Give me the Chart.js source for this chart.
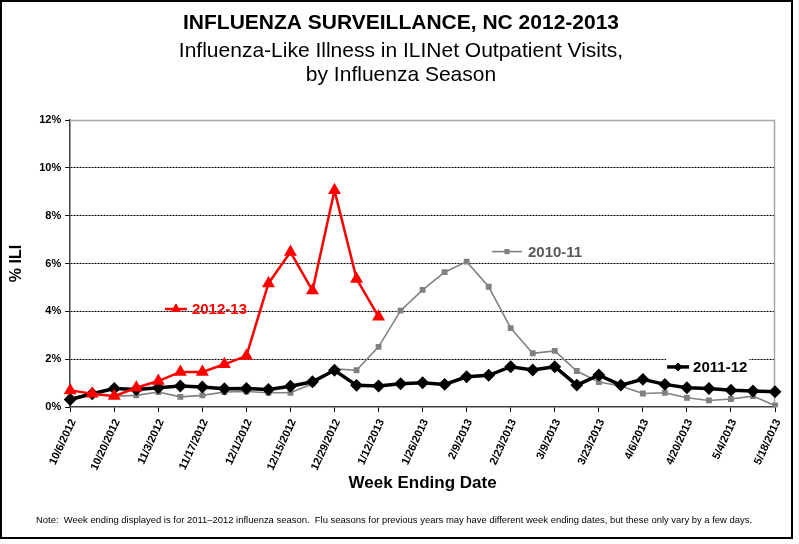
<!DOCTYPE html>
<html>
<head>
<meta charset="utf-8">
<script src="https://cdn.jsdelivr.net/npm/chart.js@4.4.1/dist/chart.umd.min.js"></script>
<style>
  body { margin: 0; background: #fff; }
  #wrap { width: 799px; height: 544px; }
</style>
</head>
<body>
<div id="wrap"><canvas id="chart" width="799" height="544"></canvas></div>
<script>
const weeks = [
  '10/6/2012', '10/13/2012', '10/20/2012', '10/27/2012', '11/3/2012', '11/10/2012',
  '11/17/2012', '11/24/2012', '12/1/2012', '12/8/2012', '12/15/2012', '12/22/2012',
  '12/29/2012', '1/5/2013', '1/12/2013', '1/19/2013', '1/26/2013', '2/2/2013',
  '2/9/2013', '2/16/2013', '2/23/2013', '3/2/2013', '3/9/2013', '3/16/2013',
  '3/23/2013', '3/30/2013', '4/6/2013', '4/13/2013', '4/20/2013', '4/27/2013',
  '5/4/2013', '5/11/2013', '5/18/2013'
];

const season1213 = [0.70, 0.56, 0.46, 0.81, 1.09, 1.47, 1.47, 1.79, 2.14, 5.17, 6.48, 4.87, 9.06, 5.36, 3.78];

const season1112 = [0.32, 0.56, 0.78, 0.74, 0.81, 0.88, 0.84, 0.77, 0.78, 0.74, 0.87, 1.06, 1.54, 0.91, 0.88,
  0.98, 1.02, 0.95, 1.27, 1.33, 1.69, 1.55, 1.69, 0.92, 1.34, 0.92, 1.16, 0.95, 0.81, 0.78, 0.71, 0.67, 0.64];

const season1011 = [0.38, 0.55, 0.46, 0.49, 0.63, 0.43, 0.49, 0.63, 0.65, 0.60, 0.60, 0.98, 1.60, 1.54, 2.52,
  4.03, 4.90, 5.64, 6.08, 5.03, 3.30, 2.25, 2.35, 1.51, 1.05, 0.88, 0.57, 0.60, 0.39, 0.28, 0.34, 0.46, 0.07];

const yTicks = [0, 2, 4, 6, 8, 10, 12];

const note = 'Note:  Week ending displayed is for 2011\u20132012 influenza season.  Flu seasons for previous years may have different week ending dates, but these only vary by a few days.';

// where the in-plot series tags sit, in data units (week index, %ILI)
const tags = [
  { ds: 0, text: '2012-13', at: 4.8, value: 4.1, color: '#ff0000', half: 11, gap: 16 },
  { ds: 2, text: '2010-11', at: 19.83, value: 6.5, color: '#595959', half: 15, gap: 21 },
  { ds: 1, text: '2011-12', at: 27.6, value: 1.68, color: '#000000', half: 11, gap: 15 },
];

const FONT = "'Liberation Sans', Arial, sans-serif";

const extras = {
  id: 'extras',
  afterLayout(chart) {
    // centre the title lines on the whole picture, not just the padded box
    chart.boxes.forEach(b => {
      if (b.options && typeof b.options.text !== 'undefined' && b.isHorizontal && b.isHorizontal()) {
        b.left = 0;
        b.right = 802;
      }
    });
  },
  beforeDatasetsDraw(chart) {
    const { ctx, chartArea: a } = chart;
    ctx.save();
    // grey plot border top and right
    ctx.strokeStyle = '#a6a6a6';
    ctx.lineWidth = 1.5;
    ctx.beginPath();
    ctx.moveTo(a.left, a.top + 0.5);
    ctx.lineTo(a.right - 0.5, a.top + 0.5);
    ctx.lineTo(a.right - 0.5, a.bottom);
    ctx.stroke();
    ctx.restore();
  },
  afterDatasetsDraw(chart) {
    const { ctx } = chart;
    const x = chart.scales.x, y = chart.scales.y;
    ctx.save();
    ctx.font = 'bold 15px ' + FONT;
    ctx.textBaseline = 'middle';
    tags.forEach(t => {
      const ds = chart.data.datasets[t.ds];
      const cx = x.getPixelForValue(t.at);
      const cy = y.getPixelForValue(t.value);
      const w = ctx.measureText(t.text).width;
      ctx.fillStyle = '#fff';
      if (t.ds === 1) ctx.fillRect(cx - t.half - 1, cy - 9, w + t.gap + t.half + 3, 18);
      ctx.strokeStyle = ds.borderColor;
      ctx.lineWidth = ds.borderWidth;
      ctx.beginPath();
      ctx.moveTo(cx - t.half, cy);
      ctx.lineTo(cx + t.half, cy);
      ctx.stroke();
      ctx.fillStyle = ds.pointBackgroundColor;
      ctx.strokeStyle = ds.borderColor;
      ctx.lineWidth = 1;
      Chart.helpers.drawPoint(ctx, {
        pointStyle: ds.pointStyle, radius: ds.pointRadius, borderWidth: 1, rotation: 0
      }, cx, cy);
      ctx.fillStyle = t.color;
      ctx.textAlign = 'left';
      ctx.fillText(t.text, cx + t.gap, cy + 1);
    });
    ctx.restore();
  },
  afterDraw(chart) {
    const { ctx } = chart;
    ctx.save();
    ctx.fillStyle = '#000';
    ctx.font = '9.45px ' + FONT;
    ctx.textAlign = 'left';
    ctx.textBaseline = 'middle';
    ctx.fillText(note, 36, 520);
    ctx.strokeStyle = '#000';
    ctx.lineWidth = 2;
    ctx.strokeRect(1, 1, 791, 537);
    ctx.restore();
  }
};

const config = {
  type: 'line',
  data: {
    labels: weeks,
    datasets: [
      {
        label: '2012-13',
        data: season1213,
        borderColor: '#ff0000',
        backgroundColor: '#ff0000',
        pointBackgroundColor: '#ff0000',
        borderWidth: 2.5,
        pointStyle: 'triangle',
        pointRadius: 5,
        tension: 0,
      },
      {
        label: '2011-12',
        data: season1112,
        borderColor: '#000000',
        backgroundColor: '#000000',
        pointBackgroundColor: '#000000',
        borderWidth: 3.5,
        pointStyle: 'rectRot',
        pointRadius: 4,
        tension: 0,
      },
      {
        label: '2010-11',
        data: season1011,
        borderColor: '#808080',
        backgroundColor: '#808080',
        pointBackgroundColor: '#808080',
        borderWidth: 1.6,
        pointStyle: 'rect',
        pointRadius: 3,
        tension: 0,
      },
    ],
  },
  options: {
    responsive: false,
    animation: false,
    devicePixelRatio: 1,
    layout: { padding: { left: 7, right: 24, top: 0, bottom: 50 } },
    plugins: {
      legend: { display: false },
      tooltip: { enabled: false },
      title: {
        display: true,
        text: 'INFLUENZA SURVEILLANCE, NC 2012-2013',
        color: '#000',
        font: { family: FONT, size: 21, weight: 'bold', lineHeight: '24px' },
        padding: { top: 11, bottom: 2 },
      },
      subtitle: {
        display: true,
        text: ['Influenza-Like Illness in ILINet Outpatient Visits,', 'by Influenza Season'],
        color: '#000',
        font: { family: FONT, size: 21, lineHeight: '24px' },
        padding: { top: 2, bottom: 33 },
      },
    },
    scales: {
      x: {
        offset: false,
        grid: {
          drawOnChartArea: false,
          drawTicks: true,
          tickLength: 5,
          tickColor: '#000',
        },
        border: { color: '#404040', width: 1.5 },
        ticks: {
          autoSkip: false,
          minRotation: 65,
          maxRotation: 65,
          color: '#000',
          padding: 5,
          labelOffset: 3,
          font: { family: FONT, size: 11, weight: 'bold' },
          callback: (v, i) => (i % 2 === 0 ? weeks[i] : null),
        },
        title: {
          display: true,
          text: 'Week Ending Date',
          color: '#000',
          font: { family: FONT, size: 17, weight: 'bold' },
          padding: { top: -4, bottom: 0 },
        },
      },
      y: {
        min: 0,
        max: 12,
        afterBuildTicks: scale => { scale.ticks = yTicks.map(v => ({ value: v })); },
        grid: {
          color: ctx => (ctx.tick && ctx.tick.value > 0 && ctx.tick.value < 12 ? '#000' : 'rgba(0,0,0,0)'),
          lineWidth: 1,
          drawTicks: true,
          tickLength: 5,
          tickColor: '#000',
          tickBorderDash: [],
        },
        border: { color: '#404040', width: 1.5, dash: [2, 1] },
        ticks: {
          color: '#000',
          padding: 4,
          font: { family: FONT, size: 11, weight: 'bold' },
          callback: v => v + '%',
        },
        title: {
          display: true,
          text: '% ILI',
          color: '#000',
          font: { family: FONT, size: 16, weight: 'bold' },
          padding: { top: 0, bottom: 9 },
        },
      },
    },
  },
  plugins: [extras],
};

const myChart = new Chart(document.getElementById('chart'), config);
</script>
</body>
</html>
